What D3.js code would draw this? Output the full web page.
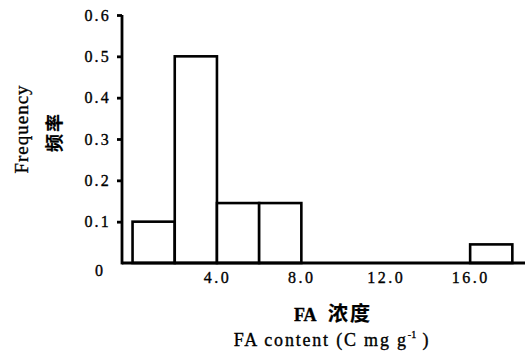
<!DOCTYPE html>
<html><head><meta charset="utf-8">
<script src="https://cdn.jsdelivr.net/npm/d3@7"></script>
<style>
body{margin:0;background:#fff;}
svg{display:block;}
text{font-family:"Liberation Serif","Times New Roman",serif;fill:#000;stroke:#000;stroke-width:0.35px;}
.cjk{font-family:"Noto Sans CJK SC",sans-serif;font-weight:bold;stroke-width:0.2px;}
</style></head><body>
<svg id="c" width="531" height="356"></svg>
<script>
const binStarts = [0, 2, 4, 6, 16];
const binWidth = 2;
const frequencies = [0.1, 0.5, 0.145, 0.145, 0.045];
const yTicks = [0, 0.1, 0.2, 0.3, 0.4, 0.5, 0.6];
const xTicks = [4, 8, 12, 16];

const svg = d3.select("#c");
const x = d3.scaleLinear().domain([-0.5, 18.6]).range([122, 525]);
const y = d3.scaleLinear().domain([0, 0.6]).range([263, 15]);

// bars
svg.append("g").selectAll("rect").data(binStarts).join("rect")
  .attr("x", d => x(d))
  .attr("y", (d,i) => y(frequencies[i]))
  .attr("width", d => x(d + binWidth) - x(d))
  .attr("height", (d,i) => y(0) - y(frequencies[i]))
  .attr("fill", "#fff").attr("stroke", "#000").attr("stroke-width", 2.6);

// y axis
const ya = svg.append("g").attr("transform", `translate(${x.range()[0]},0)`)
  .call(d3.axisLeft(y).tickValues(yTicks).tickSize(5).tickPadding(6)
    .tickFormat(d => d === 0 ? "0" : d3.format(".1f")(d)));
ya.select(".domain").remove();
ya.selectAll(".tick line").attr("stroke", "#000").attr("stroke-width", 2.8);
ya.selectAll(".tick text").attr("font-size", 16).attr("letter-spacing", 2.2)
  .style("font-family", "Liberation Serif");
ya.selectAll(".tick").filter(d => d === 0).select("line").remove();
ya.selectAll(".tick").filter(d => d === 0).select("text")
  .attr("text-anchor", "middle").attr("x", -23).attr("dy", "0.75em").attr("y", 0)
  .attr("letter-spacing", 0);

// x axis
const xa = svg.append("g").attr("transform", `translate(0,${y(0)})`)
  .call(d3.axisBottom(x).tickValues(xTicks).tickSize(0).tickPadding(9)
    .tickFormat(d3.format(".1f")));
xa.select(".domain").remove();
xa.selectAll(".tick text").attr("font-size", 16).attr("letter-spacing", 2.5)
  .style("font-family", "Liberation Serif");

// axis lines
svg.append("line").attr("x1", x.range()[0]).attr("x2", x.range()[0])
  .attr("y1", y(0.6)).attr("y2", y(0) + 1.4).attr("stroke", "#000").attr("stroke-width", 2.8);
svg.append("line").attr("x1", x.range()[0]).attr("x2", x.range()[1])
  .attr("y1", y(0)).attr("y2", y(0)).attr("stroke", "#000").attr("stroke-width", 2.8);

// titles
svg.append("text").attr("x", 333).attr("y", 321).attr("text-anchor", "middle")
  .attr("font-size", 18)
  .call(t => {
    t.append("tspan").attr("font-weight", "bold").text("FA ");
    t.append("tspan").attr("class", "cjk").attr("font-size", 20).attr("dx", 8)
      .attr("letter-spacing", 2).text("浓度");
  });
svg.append("text").attr("x", 332).attr("y", 346).attr("text-anchor", "middle")
  .attr("font-size", 18).attr("letter-spacing", 1.8)
  .call(t => {
    t.append("tspan").text("FA content (C mg g");
    t.append("tspan").attr("font-size", 10).attr("dy", -8).attr("letter-spacing", 0).text("-1");
    t.append("tspan").attr("dy", 8).text(" )");
  });
svg.append("text").attr("transform", "translate(28,129) rotate(-90)")
  .attr("text-anchor", "middle").attr("font-size", 19).attr("letter-spacing", 1).text("Frequency");
svg.append("text").attr("class", "cjk").attr("transform", "translate(61,132) rotate(-90)")
  .attr("text-anchor", "middle").attr("font-size", 18).attr("letter-spacing", 2).text("频率");
</script></body></html>
